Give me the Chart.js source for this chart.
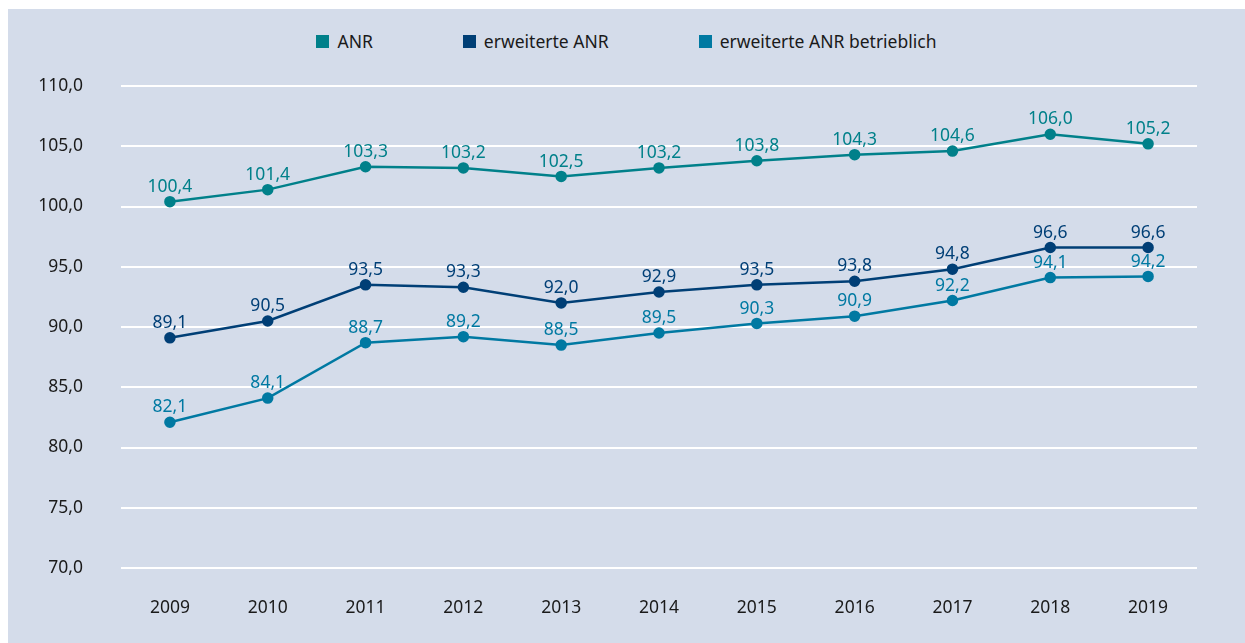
<!DOCTYPE html>
<html>
<head>
<meta charset="utf-8">
<script src="https://cdn.jsdelivr.net/npm/chart.js@4.4.1/dist/chart.umd.min.js"></script>
<style>
  html, body { margin: 0; padding: 0; background: #fff; }
  body { width: 1245px; height: 643px; position: relative; overflow: hidden; font-family: "Noto Sans", sans-serif; }
  #panel { position: absolute; left: 8px; top: 9px; right: 0; bottom: 0; background: #d4dcea; }
  #legend { position: absolute; top: 29px; left: 8px; right: 0; display: flex; justify-content: center; font-size: 17.5px; color: #1a1a1a; }
  #legend .item { display: flex; align-items: center; margin: 0 45px; }
  #legend .box { width: 13px; height: 13px; margin-right: 8px; }
  #wrap { position: absolute; left: 0; top: 0; width: 1245px; height: 643px; }
</style>
</head>
<body>
<div id="panel"></div>
<div id="legend"></div>
<div id="wrap"><canvas id="chart" width="1245" height="643"></canvas></div>
<script>
// years on the x axis
const years = ['2009', '2010', '2011', '2012', '2013', '2014', '2015', '2016', '2017', '2018', '2019'];

const seriesNames = ['ANR', 'erweiterte ANR', 'erweiterte ANR betrieblich'];
const seriesColors = ['#00808a', '#003f76', '#0079a2'];

const anr = [100.4, 101.4, 103.3, 103.2, 102.5, 103.2, 103.8, 104.3, 104.6, 106.0, 105.2];
const anrErweitert = [89.1, 90.5, 93.5, 93.3, 92.0, 92.9, 93.5, 93.8, 94.8, 96.6, 96.6];
const anrBetrieblich = [82.1, 84.1, 88.7, 89.2, 88.5, 89.5, 90.3, 90.9, 92.2, 94.1, 94.2];

const yMin = 70;
const yMax = 110;
const yStep = 5;

const fmt = v => v.toFixed(1).replace('.', ',');

// html legend
const legendEl = document.getElementById('legend');
seriesNames.forEach((name, i) => {
    const item = document.createElement('div');
    item.className = 'item';
    item.innerHTML = '<span class="box" style="background:' + seriesColors[i] + '"></span><span>' + name + '</span>';
    legendEl.appendChild(item);
});

// value labels above each point
const valueLabels = {
    id: 'valueLabels',
    afterDatasetsDraw(chart) {
        const ctx = chart.ctx;
        ctx.save();
        ctx.font = '17.5px "Noto Sans"';
        ctx.textAlign = 'center';
        ctx.textBaseline = 'bottom';
        chart.data.datasets.forEach((ds, i) => {
            const meta = chart.getDatasetMeta(i);
            ctx.fillStyle = ds.borderColor;
            meta.data.forEach((pt, j) => {
                ctx.fillText(fmt(ds.data[j]), pt.x, pt.y - 6);
            });
        });
        ctx.restore();
    }
};

const makeDataset = (label, data, color) => ({
    label: label,
    data: data,
    borderColor: color,
    backgroundColor: color,
    borderWidth: 2.5,
    pointRadius: 4.5,
    pointHoverRadius: 4.5,
    tension: 0
});

new Chart(document.getElementById('chart'), {
    type: 'line',
    data: {
        labels: years,
        datasets: [
            makeDataset(seriesNames[0], anr, seriesColors[0]),
            makeDataset(seriesNames[1], anrErweitert, seriesColors[1]),
            makeDataset(seriesNames[2], anrBetrieblich, seriesColors[2])
        ]
    },
    options: {
        responsive: false,
        animation: false,
        layout: { padding: { top: 86, right: 48, left: 0, bottom: 0 } },
        plugins: {
            legend: { display: false },
            tooltip: { enabled: false }
        },
        scales: {
            x: {
                offset: true,
                grid: { display: false, drawTicks: false },
                border: { display: false },
                ticks: { color: '#1a1a1a', font: { family: 'Noto Sans', size: 17.5 }, padding: 30 },
                afterFit(scale) { scale.height = 75; }
            },
            y: {
                min: yMin,
                max: yMax,
                grid: { color: '#ffffff', lineWidth: 2, drawTicks: false },
                border: { display: false },
                ticks: {
                    stepSize: yStep,
                    color: '#1a1a1a',
                    font: { family: 'Noto Sans', size: 17.5 },
                    padding: 38,
                    callback: v => fmt(v)
                },
                afterFit(scale) { scale.width = 121; }
            }
        }
    },
    plugins: [valueLabels]
});
</script>
</body>
</html>
